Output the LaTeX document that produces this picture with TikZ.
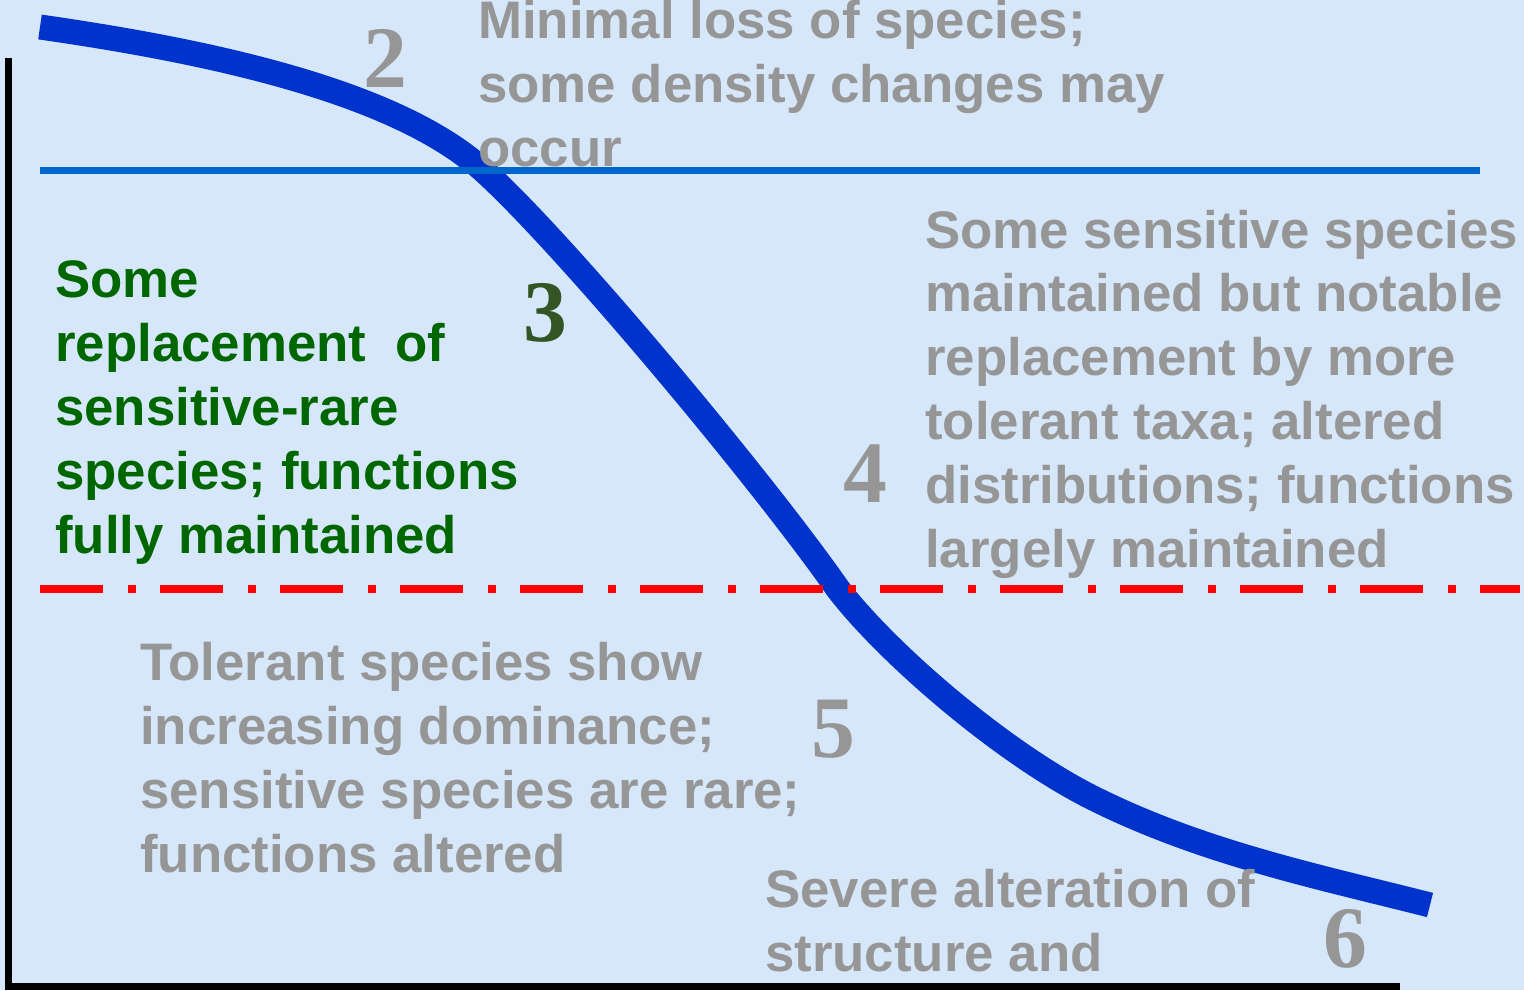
\documentclass[tikz,border=0pt]{standalone}
\usepackage{fontspec}
\setmainfont{Liberation Sans}
\newfontfamily\numfont{Liberation Serif}
\usetikzlibrary{positioning}
\definecolor{paleblue}{RGB}{214,231,250}
\definecolor{curveblue}{RGB}{0,51,204}
\definecolor{lineblue}{RGB}{0,102,204}
\definecolor{txtgray}{RGB}{150,150,150}
\definecolor{txtgreen}{RGB}{0,102,0}
\definecolor{numgreen}{RGB}{50,85,35}

\begin{document}
\begin{tikzpicture}[x=1bp,y=-1bp,
	desc/.style={anchor=base west,inner sep=0pt,align=left,text=txtgray,
		font=\fontsize{53}{64}\selectfont\bfseries},
	num/.style={anchor=base,inner sep=0pt,text=txtgray,
		font=\fontsize{88}{88}\selectfont\numfont\bfseries}]
	\fill[paleblue] (0,0) rectangle (1524,990);
	\useasboundingbox (0,0) rectangle (1524,990);
	% axes
	\draw[line width=7bp] (8,58) -- (8,986) -- (1400,986);
	% response curve
	\draw[curveblue,line width=25bp] (40,27)
		.. controls (200,50) and (393,89) .. (483,170)
		.. controls (563,242) and (762,480) .. (838,589)
		.. controls (888,654) and (1003,753) .. (1093,798)
		.. controls (1203,853) and (1320,877) .. (1430,905);
	% tier descriptions (anchored at last line)
	\node[desc] (tier2) at (478,166) {Minimal loss of species;\\some density changes may\\occur};
	\node[desc,text=txtgreen] (tier3) at (55,553) {Some\\replacement\ \ of\\sensitive-rare\\species; functions\\fully maintained};
	\node[desc] (tier4) at (925,567) {Some sensitive species\\maintained but notable\\replacement by more\\tolerant taxa; altered\\distributions; functions\\largely maintained};
	\node[desc] (tier5) at (140,872) {Tolerant species show\\increasing dominance;\\sensitive species are rare;\\functions altered};
	\node[desc] (tier6) at (765,971) {Severe alteration of\\structure and};
	% tier numbers
	\node[num] (n2) at (385,87) {2};
	\node[num,text=numgreen] (n3) at (545,341) {3};
	\node[num] (n4) at (865,502) {4};
	\node[num] (n5) at (833,757) {5};
	\node[num] (n6) at (1345,967) {6};
	% thresholds
	\draw[lineblue,line width=7bp] (40,170) -- (1480,170);
	\draw[red,line width=8bp,dash pattern=on 63bp off 25bp on 8bp off 24bp] (40,589) -- (1520,589);
\end{tikzpicture}
\end{document}
